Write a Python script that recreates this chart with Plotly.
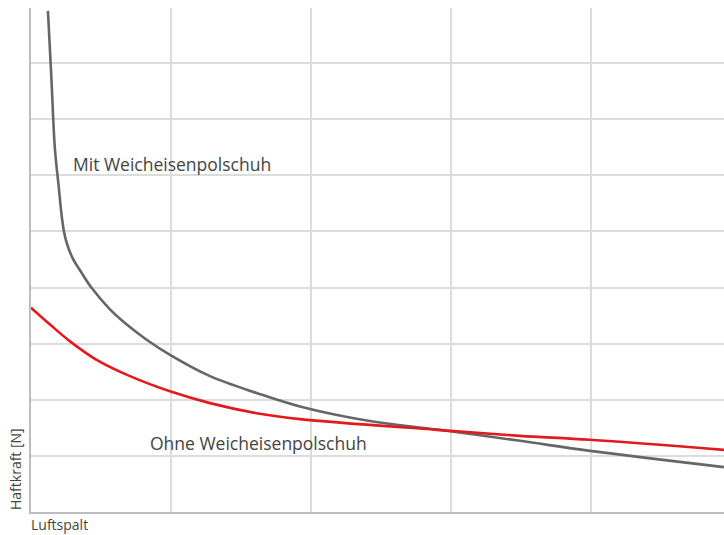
import plotly.graph_objects as go

# Luftspalt (air gap) positions and Haftkraft (holding force), arbitrary units
mit_x = [0.121, 0.146, 0.171, 0.2, 0.214, 0.236, 0.262, 0.302, 0.362, 0.434, 0.564, 0.684, 0.826, 0.993,
         1.279, 1.612, 1.921, 2.421, 2.9, 3.493, 3.993, 4.95]
mit_y = [8.93, 7.71, 6.46, 5.75, 5.39, 4.99, 4.74, 4.50, 4.26, 3.99, 3.61, 3.34, 3.07, 2.80,
         2.42, 2.12, 1.88, 1.62, 1.47, 1.268, 1.089, 0.80]

ohne_x = [0.0, 0.136, 0.279, 0.469, 0.707, 0.993, 1.279, 1.612, 1.921, 2.9, 3.493, 3.993, 4.95]
ohne_y = [3.64, 3.34, 3.04, 2.71, 2.42, 2.15, 1.94, 1.76, 1.655, 1.464, 1.357, 1.286, 1.107]

label_mit = "Mit Weicheisenpolschuh"
label_ohne = "Ohne Weicheisenpolschuh"
x_title = "Luftspalt"
y_title = "Haftkraft [N]"

W, H = 724, 535
L, R, T, B = 31, 0, 8, 23
px_per_unit = 140.0
x_max = (W - L - R) / px_per_unit

fig = go.Figure()
fig.add_trace(go.Scatter(x=mit_x, y=mit_y, mode="lines",
                         line=dict(color="#666666", width=2.6, shape="spline", smoothing=1.0),
                         name=label_mit, hoverinfo="skip"))
fig.add_trace(go.Scatter(x=ohne_x, y=ohne_y, mode="lines",
                         line=dict(color="#e3191f", width=2.6, shape="spline", smoothing=1.0),
                         name=label_ohne, hoverinfo="skip"))

font = "Open Sans, Noto Sans, sans-serif"

fig.add_annotation(x=0.286, y=6.2, xref="x", yref="y", text=label_mit, showarrow=False,
                   xanchor="left", yanchor="middle", font=dict(family=font, size=17.5, color="#444444"))
fig.add_annotation(x=0.836, y=1.23, xref="x", yref="y", text=label_ohne, showarrow=False,
                   xanchor="left", yanchor="middle", font=dict(family=font, size=17.5, color="#444444"))

pw = W - L - R
ph = H - T - B
fig.add_annotation(x=-16 / pw, y=0.0, xref="paper", yref="paper", text=y_title,
                   showarrow=False, textangle=-90, xanchor="center", yanchor="bottom",
                   font=dict(family=font, size=14, color="#444444"))
fig.add_annotation(x=-2 / pw, y=-1 / ph, xref="paper", yref="paper", text=x_title,
                   showarrow=False, xanchor="left", yanchor="top",
                   font=dict(family=font, size=14, color="#444444"))

fig.update_layout(
    width=W, height=H,
    margin=dict(l=L, r=R, t=T, b=B, pad=0),
    paper_bgcolor="white", plot_bgcolor="white",
    showlegend=False,
    xaxis=dict(range=[0, x_max], dtick=1, tick0=0, showticklabels=False, ticks="",
               showgrid=True, gridcolor="#dcdcdc", gridwidth=1.5, zeroline=False,
               showline=True, linecolor="#bdbdbd", linewidth=1.5, fixedrange=True),
    yaxis=dict(range=[0, 8.98], dtick=1, tick0=0, showticklabels=False, ticks="",
               showgrid=True, gridcolor="#dcdcdc", gridwidth=1.5, zeroline=False,
               showline=True, linecolor="#bdbdbd", linewidth=1.5, fixedrange=True),
)

fig.write_html("out.html", config={"displayModeBar": False},
               post_script="document.body.style.margin='0';document.body.style.overflow='hidden';")
